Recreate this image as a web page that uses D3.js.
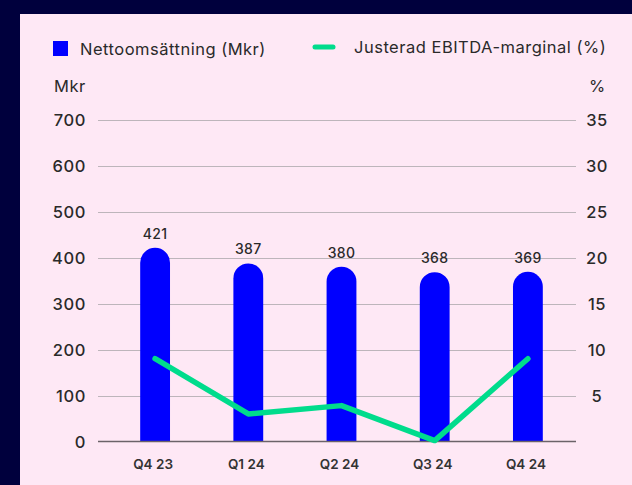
<!DOCTYPE html>
<html>
<head>
<meta charset="utf-8">
<script src="https://cdn.jsdelivr.net/npm/d3@7"></script>
<style>
    body { margin: 0; background: #00003d; }
    svg { display: block; font-family: Inter, "Open Sans", sans-serif; }
</style>
</head>
<body>
<script>
const quarters = ['Q4 23', 'Q1 24', 'Q2 24', 'Q3 24', 'Q4 24']
const nettoomsattning = [421, 387, 380, 368, 369]
const ebitdaMarginal = [9, 3, 3.9, 0.1, 9]
const leftTicks = [0, 100, 200, 300, 400, 500, 600, 700]
const rightTicks = [5, 10, 15, 20, 25, 30, 35]

const measurements = {
    width: 632,
    height: 485
}

const svg = d3.select('body').append('svg')
    .attr('width', measurements.width)
    .attr('height', measurements.height)

// pink panel
svg.append('rect')
    .attr('x', 20)
    .attr('y', 14)
    .attr('width', measurements.width - 20)
    .attr('height', measurements.height - 14)
    .attr('fill', '#fee8f5')

const x = d3.scaleBand()
    .domain(quarters)
    .range([108.5, 574.5])
    .paddingInner(0.68)
    .paddingOuter(0.34)

const yLeft = d3.scaleLinear()
    .domain([0, 700])
    .range([441.5, 119.5])

const yRight = d3.scaleLinear()
    .domain([0, 35])
    .range([441.5, 119.5])

// gridlines
svg.append('g')
    .selectAll('line')
    .data(leftTicks.slice(1))
    .enter()
    .append('line')
    .attr('x1', 98)
    .attr('x2', 576)
    .attr('y1', d => Math.round(yLeft(d)) + 0.5)
    .attr('y2', d => Math.round(yLeft(d)) + 0.5)
    .attr('stroke', '#bdb5bb')
    .attr('stroke-width', 1)

// left axis labels
svg.append('g')
    .selectAll('text')
    .data(leftTicks)
    .enter()
    .append('text')
    .attr('x', 86)
    .attr('y', d => yLeft(d) + 6)
    .attr('text-anchor', 'end')
    .attr('font-size', 16.5)
    .attr('letter-spacing', 0.6)
    .attr('font-weight', 500)
    .attr('fill', '#2a2a2a')
    .text(d => d)

// right axis labels
svg.append('g')
    .selectAll('text')
    .data(rightTicks)
    .enter()
    .append('text')
    .attr('x', 597)
    .attr('y', d => yRight(d) + 6)
    .attr('text-anchor', 'middle')
    .attr('font-size', 16.5)
    .attr('letter-spacing', 0.6)
    .attr('font-weight', 500)
    .attr('fill', '#2a2a2a')
    .text(d => d)

// units
svg.append('text')
    .attr('x', 54)
    .attr('y', 92)
    .attr('font-size', 16.5)
    .attr('letter-spacing', 0.5)
    .attr('fill', '#2a2a2a')
    .text('Mkr')

svg.append('text')
    .attr('x', 597)
    .attr('y', 92)
    .attr('text-anchor', 'middle')
    .attr('font-size', 16.5)
    .attr('fill', '#2a2a2a')
    .text('%')

// bars with rounded tops
const bw = x.bandwidth()
svg.append('g')
    .selectAll('path')
    .data(quarters)
    .enter()
    .append('path')
    .attr('fill', '#0000ff')
    .attr('d', (d, i) => {
        const x0 = x(d)
        const top = yLeft(nettoomsattning[i])
        const bottom = yLeft(0)
        const r = bw / 2
        return `M${x0},${bottom} V${top + r} A${r},${r} 0 0 1 ${x0 + bw},${top + r} V${bottom} Z`
    })

// bar value labels
svg.append('g')
    .selectAll('text')
    .data(quarters)
    .enter()
    .append('text')
    .attr('x', d => x(d) + bw / 2)
    .attr('y', (d, i) => yLeft(nettoomsattning[i]) - 9)
    .attr('text-anchor', 'middle')
    .attr('font-size', 14)
    .attr('letter-spacing', 0.3)
    .attr('font-weight', 500)
    .attr('fill', '#2a2a2a')
    .text((d, i) => nettoomsattning[i])

// baseline
svg.append('line')
    .attr('x1', 98)
    .attr('x2', 576)
    .attr('y1', yLeft(0))
    .attr('y2', yLeft(0))
    .attr('stroke', '#6b6369')
    .attr('stroke-width', 1.5)

// x labels
svg.append('g')
    .selectAll('text')
    .data(quarters)
    .enter()
    .append('text')
    .attr('x', d => x(d) + bw / 2 - 2)
    .attr('y', 469)
    .attr('text-anchor', 'middle')
    .attr('font-size', 13.5)
    .attr('font-weight', 600)
    .attr('fill', '#333')
    .text(d => d)

// EBITDA line
const line = d3.line()
    .x((d, i) => x(quarters[i]) + bw / 2)
    .y(d => yRight(d))

svg.append('path')
    .datum(ebitdaMarginal)
    .attr('d', line)
    .attr('fill', 'none')
    .attr('stroke', '#00dc8c')
    .attr('stroke-width', 5.5)
    .attr('stroke-linecap', 'round')
    .attr('stroke-linejoin', 'round')

// legend
svg.append('rect')
    .attr('x', 53)
    .attr('y', 41)
    .attr('width', 15)
    .attr('height', 15)
    .attr('fill', '#0000ff')

svg.append('text')
    .attr('x', 80)
    .attr('y', 55)
    .attr('font-size', 16.5)
    .attr('letter-spacing', 0.5)
    .attr('fill', '#2a2a2a')
    .text('Nettoomsättning (Mkr)')

svg.append('line')
    .attr('x1', 315)
    .attr('x2', 333)
    .attr('y1', 47)
    .attr('y2', 47)
    .attr('stroke', '#00dc8c')
    .attr('stroke-width', 5)
    .attr('stroke-linecap', 'round')

svg.append('text')
    .attr('x', 354)
    .attr('y', 53)
    .attr('font-size', 16.5)
    .attr('letter-spacing', 0.5)
    .attr('fill', '#2a2a2a')
    .text('Justerad EBITDA-marginal (%)')
</script>
</body>
</html>
